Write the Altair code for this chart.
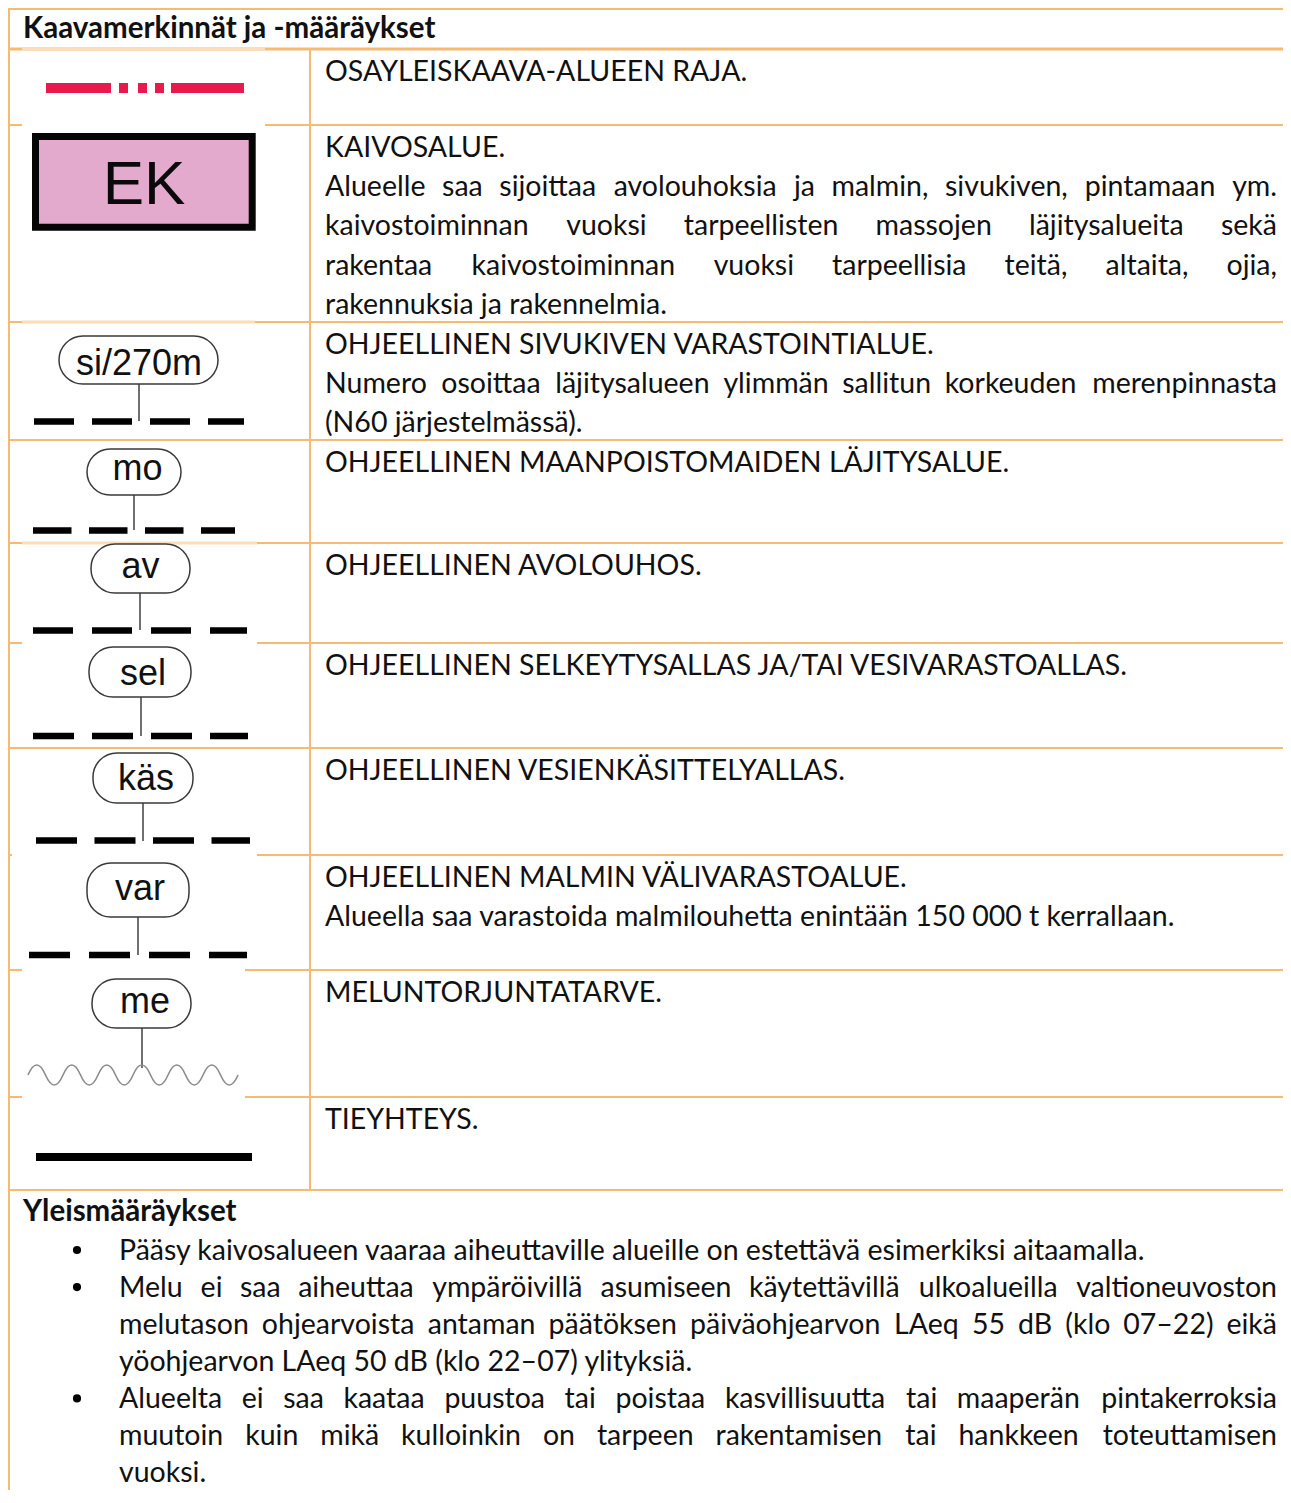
import glob
import os
import struct
import subprocess

import altair as alt
import pandas as pd

# ---------------------------------------------------------------- content
HEADER = "Kaavamerkinnät ja -määräykset"
EK_LABEL = "EK"
SYMBOL_LABELS = ["si/270m", "mo", "av", "sel", "käs", "var", "me"]

# (text, justified) per line, one list per table row
DESCRIPTIONS = [
    [("OSAYLEISKAAVA-ALUEEN RAJA.", False)],
    [("KAIVOSALUE.", False),
     ("Alueelle saa sijoittaa avolouhoksia ja malmin, sivukiven, pintamaan ym.", True),
     ("kaivostoiminnan vuoksi tarpeellisten massojen läjitysalueita sekä", True),
     ("rakentaa kaivostoiminnan vuoksi tarpeellisia teitä, altaita, ojia,", True),
     ("rakennuksia ja rakennelmia.", False)],
    [("OHJEELLINEN SIVUKIVEN VARASTOINTIALUE.", False),
     ("Numero osoittaa läjitysalueen ylimmän sallitun korkeuden merenpinnasta", True),
     ("(N60 järjestelmässä).", False)],
    [("OHJEELLINEN MAANPOISTOMAIDEN LÄJITYSALUE.", False)],
    [("OHJEELLINEN AVOLOUHOS.", False)],
    [("OHJEELLINEN SELKEYTYSALLAS JA/TAI VESIVARASTOALLAS.", False)],
    [("OHJEELLINEN VESIENKÄSITTELYALLAS.", False)],
    [("OHJEELLINEN MALMIN VÄLIVARASTOALUE.", False),
     ("Alueella saa varastoida malmilouhetta enintään 150 000 t kerrallaan.", False)],
    [("MELUNTORJUNTATARVE.", False)],
    [("TIEYHTEYS.", False)],
]

GENERAL_TITLE = "Yleismääräykset"
GENERAL_BULLETS = [
    [("Pääsy kaivosalueen vaaraa aiheuttaville alueille on estettävä esimerkiksi aitaamalla.", False)],
    [("Melu ei saa aiheuttaa ympäröivillä asumiseen käytettävillä ulkoalueilla valtioneuvoston", True),
     ("melutason ohjearvoista antaman päätöksen päiväohjearvon LAeq 55 dB (klo 07–22) eikä", True),
     ("yöohjearvon LAeq 50 dB (klo 22–07) ylityksiä.", False)],
    [("Alueelta ei saa kaataa puustoa tai poistaa kasvillisuutta tai maaperän pintakerroksia", True),
     ("muutoin kuin mikä kulloinkin on tarpeen rakentamisen tai hankkeen toteuttamisen", True),
     ("vuoksi.", False)],
]

# ---------------------------------------------------------------- layout (px)
W, H = 1275, 1482
ORANGE = "#F7BA72"
TEXT = "#111111"
FONT = "Lato"
SIZE = 28.5
BOLD_SIZE = 29.5
ROW_TOPS = [49, 125, 322, 440, 543, 643, 748, 855, 970, 1097]
TABLE_BOTTOM = 1190
COL_X = 310
TEXT_X = 325
RIGHT_X = 1277
LINE_H = 39.4
BULLET_Y0 = 1259.5
BULLET_LH = 37.1

# symbol geometry for the label symbols (pill box, leader, dashed line)
PILLS = pd.DataFrame({
    "label": SYMBOL_LABELS,
    "x1": [59, 87, 91, 89, 93, 87, 92],
    "x2": [218, 181, 190, 191, 193, 189, 191],
    "y1": [336, 449, 544, 647, 753, 863, 979],
    "y2": [384, 495, 593, 697, 803, 917, 1028],
    "tx": [139, 137.5, 140.5, 143, 146, 140, 145],
    "ty": [375, 480, 578, 685, 790, 900, 1013],
    "lx": [139, 134, 140, 141, 143, 138, 142],
    "ly": [421, 530, 630, 736, 841, 955, 1068],
})
DASHES = [  # x1, x2, y, dash, gap
    (34, 244, 421.5, 40, 18),
    (33, 235, 530.5, 38.5, 17.5),
    (33, 247, 630.5, 40, 19),
    (33, 248, 736, 41, 18),
    (36, 250, 840.5, 41, 17.5),
    (29, 247, 955, 41, 19),
]

XS = alt.Scale(domain=[8, 8 + W], nice=False, zero=False)
YS = alt.Scale(domain=[8, 8 + H], nice=False, zero=False, reverse=True)


def X(f):
    return alt.X(f, type="quantitative", scale=XS, axis=None)


def Y(f):
    return alt.Y(f, type="quantitative", scale=YS, axis=None)


# ---------------------------------------------------------------- font metrics
def find_font(names, query):
    for base in ["/usr/share/fonts", "/usr/local/share/fonts",
                 os.path.expanduser("~/.fonts"), os.path.expanduser("~/.local/share/fonts")]:
        for n in names:
            hits = glob.glob(os.path.join(base, "**", n), recursive=True)
            if hits:
                return hits[0]
    try:
        out = subprocess.run(["fc-match", "-f", "%{file}", query],
                             capture_output=True, text=True, timeout=10).stdout.strip()
        if out and os.path.exists(out) and "lato" in out.lower():
            return out
    except Exception:
        pass
    return None


def make_width_fn(path):
    if not path:
        return None
    try:
        d = open(path, "rb").read()
        num = struct.unpack(">H", d[4:6])[0]
        tabs = {}
        for i in range(num):
            tag, _, off, _ln = struct.unpack(">4sIII", d[12 + 16 * i:28 + 16 * i])
            tabs[tag] = off
        upem = struct.unpack(">H", d[tabs[b"head"] + 18:tabs[b"head"] + 20])[0]
        nhm = struct.unpack(">H", d[tabs[b"hhea"] + 34:tabs[b"hhea"] + 36])[0]
        ho = tabs[b"hmtx"]
        adv = [struct.unpack(">H", d[ho + 4 * i:ho + 4 * i + 2])[0] for i in range(nhm)]
        co = tabs[b"cmap"]
        nsub = struct.unpack(">H", d[co + 2:co + 4])[0]
        sub = None
        for i in range(nsub):
            pid, eid, off = struct.unpack(">HHI", d[co + 4 + 8 * i:co + 12 + 8 * i])
            so = co + off
            if struct.unpack(">H", d[so:so + 2])[0] == 4:
                sub = so
                if pid == 3 and eid == 1:
                    break
        if sub is None:
            return None
        so = sub
        segx2 = struct.unpack(">H", d[so + 6:so + 8])[0]
        seg = segx2 // 2
        ends = struct.unpack(">%dH" % seg, d[so + 14:so + 14 + segx2])
        starts = struct.unpack(">%dH" % seg, d[so + 16 + segx2:so + 16 + 2 * segx2])
        deltas = struct.unpack(">%dh" % seg, d[so + 16 + 2 * segx2:so + 16 + 3 * segx2])
        rpos = so + 16 + 3 * segx2
        ros = struct.unpack(">%dH" % seg, d[rpos:rpos + segx2])

        def glyph(c):
            for s in range(seg):
                if starts[s] <= c <= ends[s]:
                    if ros[s] == 0:
                        return (c + deltas[s]) & 0xFFFF
                    a = rpos + 2 * s + ros[s] + 2 * (c - starts[s])
                    g = struct.unpack(">H", d[a:a + 2])[0]
                    return (g + deltas[s]) & 0xFFFF if g else 0
            return 0

        cache = {}

        def width(text, size):
            tot = 0
            for ch in text:
                if ch not in cache:
                    g = glyph(ord(ch))
                    cache[ch] = adv[min(g, nhm - 1)]
                tot += cache[ch]
            return tot * size / upem
        return width
    except Exception:
        return None


width_fn = make_width_fn(find_font(["Lato-Regular.ttf", "Lato-Regular.otf"], "Lato:style=Regular"))

left_items, right_items, bold_items = [], [], []


def place(x0, y, text, justify):
    if justify and width_fn is not None:
        words = text.split(" ")
        ws = [width_fn(w, SIZE) for w in words]
        gap = (RIGHT_X - x0 - sum(ws)) / (len(words) - 1)
        x = x0
        for i, (w, wd) in enumerate(zip(words, ws)):
            if i == len(words) - 1:
                right_items.append({"x": RIGHT_X, "y": y, "t": w})
            else:
                left_items.append({"x": x, "y": y, "t": w})
            x += wd + gap
    else:
        left_items.append({"x": x0, "y": y, "t": text})


bold_items.append({"x": 23, "y": 37.5, "t": HEADER})
for top, lines in zip(ROW_TOPS, DESCRIPTIONS):
    for k, (txt, just) in enumerate(lines):
        place(TEXT_X, top + 31.5 + k * LINE_H, txt, just)

bold_items.append({"x": 23, "y": 1221, "t": GENERAL_TITLE})
bullets = []
yb = BULLET_Y0
for lines in GENERAL_BULLETS:
    bullets.append({"x": 77, "y": yb - 9.5})
    for txt, just in lines:
        place(119, yb, txt, just)
        yb += BULLET_LH

# ---------------------------------------------------------------- table lines
hlines = pd.DataFrame(
    [{"x1": 8, "x2": 1291, "y": 9, "w": 2}, {"x1": 8, "x2": 1291, "y": 49, "w": 3}]
    + [{"x1": 8, "x2": 1291, "y": t, "w": 2} for t in ROW_TOPS[1:]]
    + [{"x1": 8, "x2": 1291, "y": TABLE_BOTTOM, "w": 2}]
)
vlines = pd.DataFrame([
    {"x": 9, "y1": 8, "y2": 1503},
    {"x": COL_X, "y1": 49, "y2": TABLE_BOTTOM},
])
white_gaps = pd.DataFrame([
    {"x1": 22, "x2": 265, "y": 125},
    {"x1": 22, "x2": 257, "y": 643},
    {"x1": 12, "x2": 257, "y": 855},
    {"x1": 22, "x2": 245, "y": 970},
    {"x1": 22, "x2": 245, "y": 1097},
])
light_gaps = pd.DataFrame([
    {"x1": 22, "x2": 265, "y": 49},
    {"x1": 22, "x2": 255, "y": 322},
    {"x1": 22, "x2": 257, "y": 543},
])

layers = []
for w in [2, 3]:
    layers.append(alt.Chart(hlines[hlines.w == w]).mark_rule(color=ORANGE, strokeWidth=w).encode(
        x=X("x1"), x2="x2", y=Y("y")))
layers.append(alt.Chart(vlines).mark_rule(color=ORANGE, strokeWidth=2).encode(
    x=X("x"), y=Y("y1"), y2="y2"))
layers.append(alt.Chart(white_gaps).mark_rule(color="white", strokeWidth=3).encode(
    x=X("x1"), x2="x2", y=Y("y")))
layers.append(alt.Chart(light_gaps).mark_rule(color="#FBDDB8", strokeWidth=3).encode(
    x=X("x1"), x2="x2", y=Y("y")))

# ---------------------------------------------------------------- symbols
red = pd.DataFrame([{"x1": 46, "x2": 244, "y": 88}])
layers.append(alt.Chart(red).mark_rule(
    color="#E8194C", strokeWidth=10, strokeCap="butt",
    strokeDash=[65, 8, 9, 10, 9, 8, 9, 7, 73, 40]).encode(x=X("x1"), x2="x2", y=Y("y")))

ek = pd.DataFrame([{"x1": 35.5, "x2": 252.2, "y1": 136.5, "y2": 227.2, "t": EK_LABEL, "tx": 144, "ty": 204}])
layers.append(alt.Chart(ek).mark_rect(fill="#E3AACD", stroke="#050505", strokeWidth=7).encode(
    x=X("x1"), x2="x2", y=Y("y1"), y2="y2"))
layers.append(alt.Chart(ek).mark_text(font="Liberation Sans", fontSize=62, color="#0a0a0a",
                                      align="center", baseline="alphabetic").encode(
    x=X("tx"), y=Y("ty"), text="t:N"))

for x1, x2, y, dash, gap in DASHES:
    dd = pd.DataFrame([{"x1": x1, "x2": x2, "y": y}])
    layers.append(alt.Chart(dd).mark_rule(color="#000000", strokeWidth=6.5, strokeCap="butt",
                                          strokeDash=[dash, gap]).encode(
        x=X("x1"), x2="x2", y=Y("y")))

layers.append(alt.Chart(PILLS).mark_rule(color="#333333", strokeWidth=1.4).encode(
    x=X("lx"), y=Y("y2"), y2="ly"))
layers.append(alt.Chart(PILLS).mark_rect(fill="white", stroke="#3a3a3a", strokeWidth=1.5,
                                         cornerRadius=24).encode(
    x=X("x1"), x2="x2", y=Y("y1"), y2="y2"))
layers.append(alt.Chart(PILLS).mark_text(font="Liberation Sans", fontSize=36, color="#111111",
                                         align="center", baseline="alphabetic").encode(
    x=X("tx"), y=Y("ty"), text="label:N"))

# noise-barrier wave: a custom symbol path in unit box [-1, 1]
half = [("q0.0833,-0.19 0.1667,0" if i % 2 == 0 else "q0.0833,0.19 0.1667,0") for i in range(12)]
WAVE_PATH = "M-1,0 " + " ".join(half)
wave = pd.DataFrame([{"x": 133, "y": 1075}])
layers.append(alt.Chart(wave).mark_point(shape=WAVE_PATH, filled=False, stroke="#8c8c8c",
                                         strokeWidth=1.6, size=44100, opacity=1).encode(
    x=X("x"), y=Y("y")))

road = pd.DataFrame([{"x1": 36, "x2": 252, "y": 1157}])
layers.append(alt.Chart(road).mark_rule(color="#000000", strokeWidth=8, strokeCap="butt").encode(
    x=X("x1"), x2="x2", y=Y("y")))

# ---------------------------------------------------------------- texts
layers.append(alt.Chart(pd.DataFrame(left_items)).mark_text(
    font=FONT, fontSize=SIZE, color=TEXT, align="left", baseline="alphabetic").encode(
    x=X("x"), y=Y("y"), text="t:N"))
if right_items:
    layers.append(alt.Chart(pd.DataFrame(right_items)).mark_text(
        font=FONT, fontSize=SIZE, color=TEXT, align="right", baseline="alphabetic").encode(
        x=X("x"), y=Y("y"), text="t:N"))
layers.append(alt.Chart(pd.DataFrame(bold_items)).mark_text(
    font=FONT, fontSize=BOLD_SIZE, fontWeight="bold", color=TEXT, align="left",
    baseline="alphabetic").encode(x=X("x"), y=Y("y"), text="t:N"))
layers.append(alt.Chart(pd.DataFrame(bullets)).mark_point(
    shape="circle", filled=True, color="#000000", size=66, opacity=1).encode(
    x=X("x"), y=Y("y")))

chart = alt.layer(*layers).properties(
    width=W, height=H, padding=0, autosize="none", background="white"
).configure_view(stroke=None)

chart.save("out.html", embed_options={"renderer": "svg", "actions": False})
